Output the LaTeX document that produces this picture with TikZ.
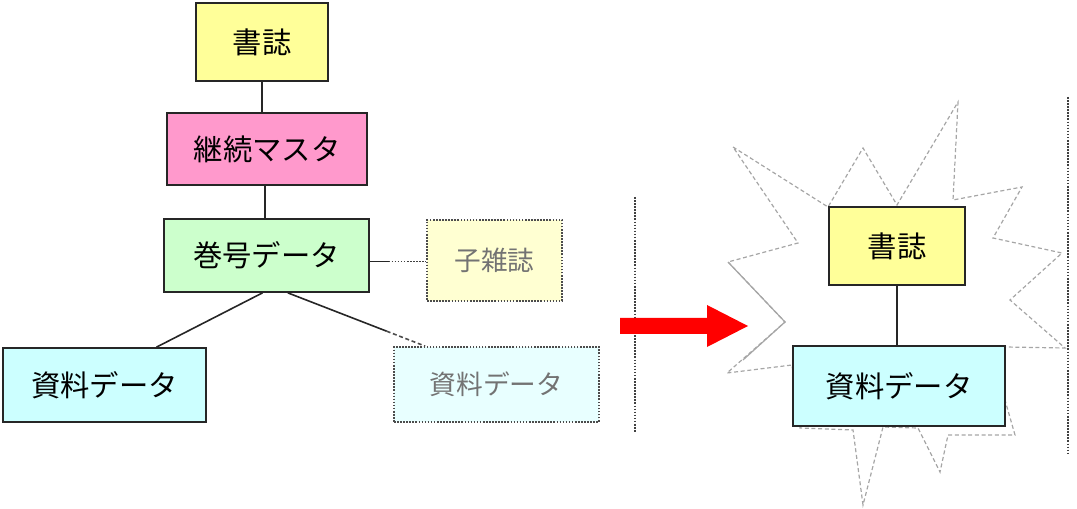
\documentclass[tikz,border=0pt]{standalone}
\usepackage{fontspec}
\newfontfamily\jpfont{Noto Sans CJK JP}
\usetikzlibrary{calc}

\definecolor{shoshi}{HTML}{FFFF99}
\definecolor{keizokuc}{HTML}{FF99CC}
\definecolor{kangoc}{HTML}{CCFFCC}
\definecolor{shiryoc}{HTML}{CCFFFF}
\definecolor{kozasshic}{HTML}{FFFFD2}
\definecolor{shiryofaint}{HTML}{E8FFFF}

\begin{document}
\begin{tikzpicture}[x=0.75pt, y=-0.75pt,
    box/.style={draw=black!85, line width=1.3pt, inner sep=0pt, font=\jpfont\fontsize{22}{24}\selectfont},
    ghostbox/.style={draw=black!70, dash pattern=on 1.2pt off 1.1pt, line width=1.3pt, inner sep=0pt, text=black!55, font=\jpfont\fontsize{20}{24}\selectfont},
    link/.style={draw=black!85, line width=1.2pt},
    ghostlink/.style={draw=black!70, line width=1.2pt, densely dashed},
    divider/.style={draw=black!75, line width=1.4pt, dash pattern=on 1.2pt off 1.1pt},
    burst/.style={draw=gray!70, line width=0.9pt, densely dashed}]

    \useasboundingbox (0,0) rectangle (1077,509);

    % Burst behind the new pair
    \draw[burst] (733,147) -- (828,207) -- (863,148) -- (897,205) -- (958,102) -- (953,200)
        -- (1022,187) -- (993,238) -- (1062,253) -- (1010,300) -- (1065,348) -- (1005,347)
        -- (1005,400) -- (1015,435) -- (948,435) -- (940,472) -- (918,428) -- (883,427)
        -- (863,505) -- (853,430) -- (800,428) -- (792,365) -- (727,373) -- (785,322)
        -- (728,262) -- (798,243) -- cycle;
    \draw[burst, solid] (743,360) -- (785,322) -- (728,262);

    % Current structure
    \node[box, fill=shoshi, minimum width=99pt, minimum height=58.5pt] (sho1) at (262,42) {書誌};
    \node[box, fill=keizokuc, minimum width=150pt, minimum height=54pt] (keizoku) at (267,149) {継続マスタ};
    \node[box, fill=kangoc, minimum width=153.75pt, minimum height=54.75pt] (kango) at (266.5,255.5) {巻号データ};
    \node[box, fill=shiryoc, minimum width=152.25pt, minimum height=55.5pt] (shiryo1) at (104.5,385) {資料データ};

    % Faded entries
    \node[ghostbox, fill=kozasshic, minimum width=101.25pt, minimum height=60.75pt] (kozasshi) at (494.5,260.5) {子雑誌};
    \node[ghostbox, fill=shiryofaint, minimum width=153.75pt, minimum height=56.25pt] (shiryo2) at (496.5,384.5) {資料データ};

    % Links
    \draw[link] (sho1.south) -- (sho1.south |- keizoku.north);
    \draw[link] ([xshift=-1.5pt]keizoku.south) -- ([xshift=-1.5pt]keizoku.south |- kango.north);
    \draw[link] ([xshift=-3pt]kango.south) -- ([xshift=39pt]shiryo1.north);
    \coordinate (kg2) at ([xshift=16pt]kango.south);
    \coordinate (sr2) at ([xshift=-53.5pt]shiryo2.north);
    \coordinate (kgbreak) at ($(kg2)!0.72!(sr2)$);
    \draw[link] (kg2) -- (kgbreak);
    \draw[ghostlink] (kgbreak) -- (sr2);
    \draw[link] ([yshift=-4.5pt]kango.east) -- ++(14pt,0) coordinate (kzbreak);
    \draw[divider] (kzbreak) -- (kzbreak -| kozasshi.west);

    % Dividers
    \coordinate (d1top) at (635,197);
    \coordinate (d1bot) at (635,432);
    \coordinate (d2top) at (1068,97);
    \coordinate (d2bot) at (1068,453);
    \draw[divider] (d1top) -- (d1bot);
    \draw[divider] (d2top) -- (d2bot);

    % Arrow
    \fill[red] (620,318) -- (707,318) -- (707,305) -- (748,326) -- (707,347) -- (707,334) -- (620,334) -- cycle;

    % New structure
    \node[box, fill=shoshi, minimum width=102pt, minimum height=58.5pt] (sho2) at (897,246) {書誌};
    \node[box, fill=shiryoc, minimum width=159pt, minimum height=60pt] (shiryo3) at (899,386) {資料データ};
    \draw[link] (sho2.south) -- (sho2.south |- shiryo3.north);

\end{tikzpicture}
\end{document}
